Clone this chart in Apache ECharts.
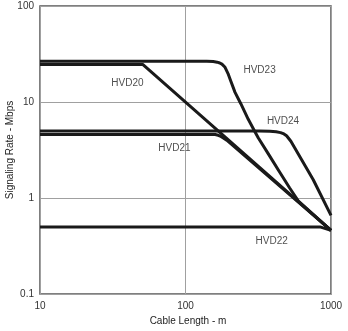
<!DOCTYPE html>
<html>
<head>
<meta charset="utf-8">
<script src="https://cdn.jsdelivr.net/npm/echarts@6/dist/echarts.min.js"></script>
<style>
  html, body { margin: 0; padding: 0; background: #fff; }
  #chart { width: 348px; height: 331px; }
</style>
</head>
<body>
<div id="chart"></div>
<script>
// Signaling rate (Mbps) versus cable length (m) for each device, log-log scale
const hvd20 = [[10, 24.6], [50.8, 24.6], [1000, 0.46]];
const hvd21 = [[10, 4.6], [150, 4.6], [160, 4.58], [168, 4.5], [175, 4.38], [182, 4.22],
               [192, 4.0], [1000, 0.46]];
const hvd22 = [[10, 0.5], [840, 0.5], [1000, 0.46]];
const hvd23 = [[10, 26.5], [140, 26.5], [155, 26.4], [165, 26], [172, 25.5], [178, 24.8],
               [183, 24], [187, 23], [190, 22.2], [196, 19.8], [202, 17.5], [219, 12.6],
               [240, 9.6], [270, 6.6], [300, 4.9], [316, 4.25], [370, 2.9], [440, 1.9],
               [520, 1.27], [600, 0.92], [1000, 0.46]];
const hvd24 = [[10, 5.0], [320, 5.0], [380, 4.97], [420, 4.9], [450, 4.8], [475, 4.65],
               [495, 4.45], [510, 4.25], [530, 3.9], [755, 1.55], [1000, 0.66]];

const seriesNames = ['HVD20', 'HVD21', 'HVD22', 'HVD23', 'HVD24'];
const seriesData = [hvd20, hvd21, hvd22, hvd23, hvd24];

// Curve labels placed in data coordinates: [length, rate, text]
const curveLabels = [
  [39.9, 15.6, 'HVD20'],
  [84, 3.32, 'HVD21'],
  [391, 0.358, 'HVD22'],
  [323, 21.5, 'HVD23'],
  [468, 6.34, 'HVD24']
];

const xTicks = [10, 100, 1000];
const yTicks = [0.1, 1, 10, 100];

const font = '"Liberation Sans", Arial, sans-serif';

const chart = echarts.init(document.getElementById('chart'), null, { renderer: 'canvas' });

const lineSeries = seriesData.map((d, i) => ({
  name: seriesNames[i],
  type: 'line',
  data: d,
  showSymbol: false,
  symbol: 'none',
  smooth: false,
  lineStyle: { color: '#1a1a1a', width: 3, join: 'round' },
  z: 3
}));

chart.setOption({
  animation: false,
  grid: {
    left: 40, top: 6, right: 17, bottom: 37,
    containLabel: false,
    outerBoundsMode: 'none',
    show: true,
    borderColor: '#555',
    borderWidth: 1.5,
    backgroundColor: 'transparent'
  },
  xAxis: {
    type: 'log',
    logBase: 10,
    min: xTicks[0],
    max: xTicks[xTicks.length - 1],
    name: 'Cable Length - m',
    nameLocation: 'middle',
    nameGap: 22,
    nameMoveOverlap: false,
    nameTextStyle: { fontFamily: font, fontSize: 10, color: '#222', padding: [0, 0, 0, 5] },
    axisLine: { show: false },
    axisTick: { show: false },
    axisLabel: {
      fontFamily: font, fontSize: 10, color: '#333', margin: 7,
      formatter: v => String(Math.round(v))
    },
    splitLine: { show: true, lineStyle: { color: '#a0a0a0', width: 1 } }
  },
  yAxis: {
    type: 'log',
    logBase: 10,
    min: yTicks[0],
    max: yTicks[yTicks.length - 1],
    name: 'Signaling Rate - Mbps',
    nameLocation: 'middle',
    nameGap: 25,
    nameMoveOverlap: false,
    nameTextStyle: { fontFamily: font, fontSize: 10, color: '#222' },
    axisLine: { show: false },
    axisTick: { show: false },
    axisLabel: {
      fontFamily: font, fontSize: 10, color: '#333', margin: 6,
      formatter: v => {
        const r = Math.round(v * 10) / 10;
        return r < 1 ? r.toFixed(1) : String(Math.round(r));
      }
    },
    splitLine: { show: true, lineStyle: { color: '#a0a0a0', width: 1 } }
  },
  series: lineSeries.concat([{
    type: 'scatter',
    data: curveLabels,
    symbol: 'circle',
    symbolSize: 1,
    itemStyle: { color: 'rgba(0,0,0,0)' },
    label: {
      show: true,
      position: 'inside',
      formatter: p => p.data[2],
      fontFamily: font,
      fontSize: 10,
      color: '#222'
    },
    silent: true,
    z: 5
  }])
});
</script>
</body>
</html>
